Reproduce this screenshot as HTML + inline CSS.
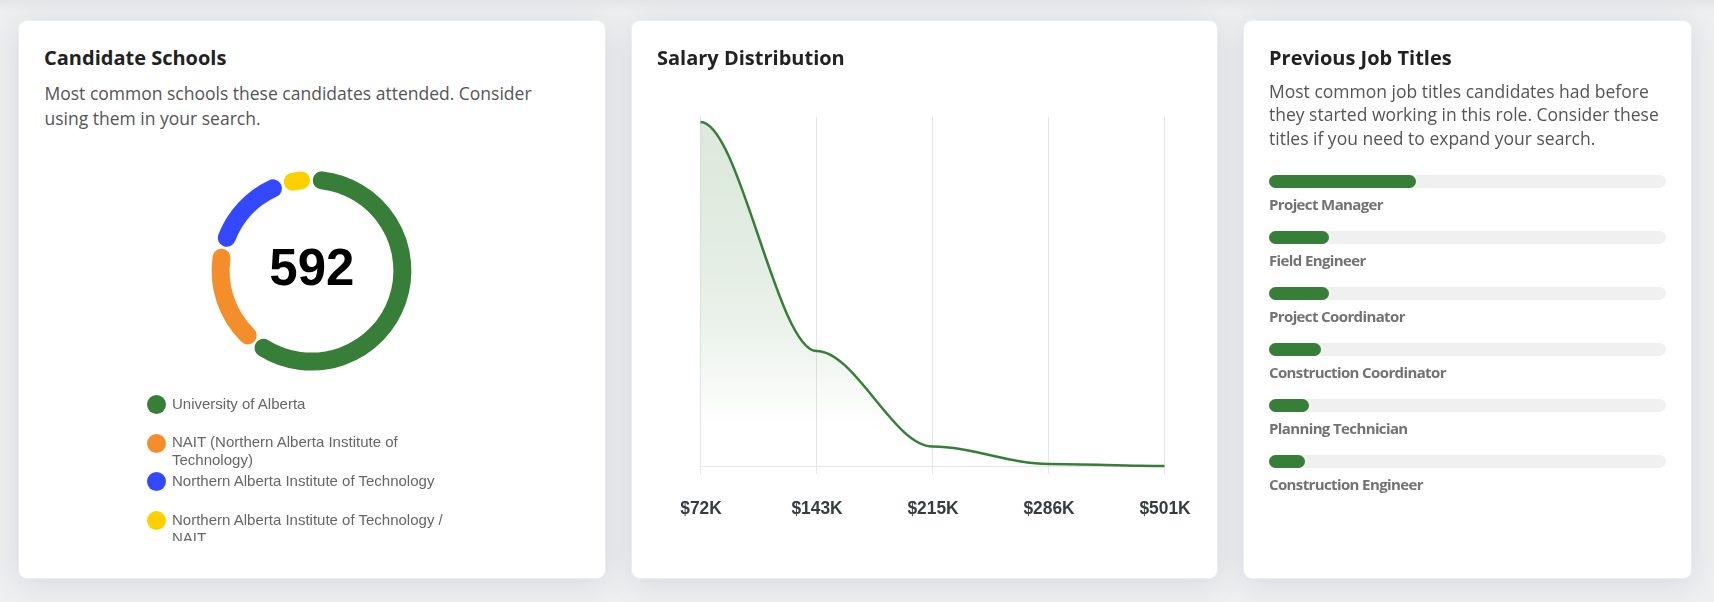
<!DOCTYPE html>
<html><head><meta charset="utf-8"><title>Candidate Insights</title>
<style>
html,body{margin:0;padding:0}
body{width:1714px;height:602px;overflow:hidden;background:#eeeff1;position:relative;font-family:"Open Sans","Liberation Sans",sans-serif}
.card{position:absolute;top:21px;height:557px;background:#fff;border-radius:8px;box-shadow:0 0 0 1px rgba(236,239,248,.75),0 4px 32px rgba(10,15,40,.105)}
#c1{left:19px;width:586px}
#c2{left:632px;width:585px}
#c3{left:1244px;width:447px}
h2{position:absolute;margin:0;font:700 20px/27px "Open Sans","Liberation Sans",sans-serif;color:#222;white-space:nowrap}
.desc{position:absolute;margin:0;white-space:nowrap;font:400 17.5px/26.4px "Open Sans","Liberation Sans",sans-serif;color:#555}
.lg{position:absolute;font:400 15px/18.3px "Liberation Sans",Arial,sans-serif;color:#666;white-space:nowrap}
.mk{position:absolute;width:19px;height:19px;border-radius:50%}
.ax{font:700 18px "Liberation Sans",Arial,sans-serif;fill:#373d3f}
.track{position:absolute;left:25px;width:397px;height:13px;border-radius:7px;background:#f0f0f0}
.fill{position:absolute;left:0;top:0;height:13px;border-radius:7px;background:#377e38}
.bl{position:absolute;left:25px;font:700 15px/20px "Open Sans","Liberation Sans",sans-serif;color:#727272;white-space:nowrap;letter-spacing:-0.62px;will-change:transform}
#topfade{position:absolute;left:0;top:0;width:1714px;height:12px;background:linear-gradient(rgba(0,0,0,.045),rgba(0,0,0,0))}
</style></head>
<body>
<div id="topfade"></div>
<div class="card" id="c1">
  <h2 style="left:25px;top:23px">Candidate Schools</h2>
  <p class="desc" style="left:25.5px;top:59.7px;width:520px;line-height:25.6px">Most common schools these candidates attended. Consider<br>using them in your search.</p>
  <svg style="position:absolute;left:0;top:0;will-change:transform" width="586" height="557" viewBox="19 21 586 557">
    <g fill="none" stroke-width="18" stroke-linecap="round">
      <path id="sg" stroke="#377e38" d="M321.79,180.38 A90.9,90.9 0 1 1 263.46,347.87"/>
      <path id="so" stroke="#f48e2b" d="M247.67,335.42 A90.9,90.9 0 0 1 221.53,257.74"/>
      <path id="sb" stroke="#3449ff" d="M226.75,237.83 A90.9,90.9 0 0 1 272.94,188.38"/>
      <path id="sy" stroke="#ffd000" d="M292.76,181.75 A90.9,90.9 0 0 1 301.05,180.40"/>
    </g>
    <text x="0" y="285" transform="translate(311.8 0) scale(0.98 1)" text-anchor="middle" style="font:700 52px 'Liberation Sans',Arial,sans-serif" fill="#000">592</text>
  </svg>
  <div style="position:absolute;left:0;top:0;width:586px;height:520px;overflow:hidden;will-change:transform">
    <div class="mk" style="left:127.5px;top:374px;background:#377e38"></div>
    <div class="lg" style="left:153px;top:374px">University of Alberta</div>
    <div class="mk" style="left:127.5px;top:412.5px;background:#f48e2b"></div>
    <div class="lg" style="left:153px;top:412px">NAIT (Northern Alberta Institute of<br>Technology)</div>
    <div class="mk" style="left:127.5px;top:451px;background:#3449ff"></div>
    <div class="lg" style="left:153px;top:451px">Northern Alberta Institute of Technology</div>
    <div class="mk" style="left:127.5px;top:490px;background:#ffd000"></div>
    <div class="lg" style="left:153px;top:490px">Northern Alberta Institute of Technology /<br>NAIT</div>
  </div>
</div>

<div class="card" id="c2">
  <h2 style="left:25px;top:23px">Salary Distribution</h2>
  <svg style="position:absolute;left:0;top:0;will-change:transform" width="585" height="557" viewBox="632 21 585 557">
    <defs>
      <linearGradient id="gf" x1="0" y1="122" x2="0" y2="466" gradientUnits="userSpaceOnUse">
        <stop offset="0" stop-color="#377e38" stop-opacity="0.17"/>
        <stop offset="0.35" stop-color="#377e38" stop-opacity="0.145"/>
        <stop offset="0.6" stop-color="#377e38" stop-opacity="0.1"/>
        <stop offset="0.9" stop-color="#377e38" stop-opacity="0"/>
      </linearGradient>
    </defs>
    <g stroke="#e6e6e6" stroke-width="1">
      <line x1="700.5" y1="117" x2="700.5" y2="466"/>
      <line x1="816.5" y1="117" x2="816.5" y2="466"/>
      <line x1="932.5" y1="117" x2="932.5" y2="466"/>
      <line x1="1048.5" y1="117" x2="1048.5" y2="466"/>
      <line x1="1164.5" y1="117" x2="1164.5" y2="466"/>
      <line x1="700" y1="466.5" x2="1165" y2="466.5"/>
      <line x1="700.5" y1="466" x2="700.5" y2="474"/>
      <line x1="816.5" y1="466" x2="816.5" y2="474"/>
      <line x1="932.5" y1="466" x2="932.5" y2="474"/>
      <line x1="1048.5" y1="466" x2="1048.5" y2="474"/>
      <line x1="1164.5" y1="466" x2="1164.5" y2="474"/>
    </g>
    <path id="area" fill="url(#gf)" d="M700.5,122 C739.2,122 777.8,351 816.5,351 C855.2,351 893.8,446.5 932.5,446.5 C971.2,446.5 1009.8,464 1048.5,464 C1087.2,464 1125.8,466 1164.5,466 L1164.5,466.5 L700.5,466.5 Z"/>
    <path id="curve" fill="none" stroke="#377e38" stroke-width="2.5" d="M700.5,122 C739.2,122 777.8,351 816.5,351 C855.2,351 893.8,446.5 932.5,446.5 C971.2,446.5 1009.8,464 1048.5,464 C1087.2,464 1125.8,466 1164.5,466"/>
    <g class="ax" text-anchor="middle">
      <text x="0" y="514" transform="translate(701 0) scale(0.965 1)">$72K</text>
      <text x="0" y="514" transform="translate(817 0) scale(0.965 1)">$143K</text>
      <text x="0" y="514" transform="translate(933 0) scale(0.965 1)">$215K</text>
      <text x="0" y="514" transform="translate(1049 0) scale(0.965 1)">$286K</text>
      <text x="0" y="514" transform="translate(1165 0) scale(0.965 1)">$501K</text>
    </g>
  </svg>
</div>

<div class="card" id="c3">
  <h2 style="left:25px;top:23px">Previous Job Titles</h2>
  <p class="desc" style="left:25px;top:58.7px;width:400px;line-height:23.7px">Most common job titles candidates had before<br>they started working in this role. Consider these<br>titles if you need to expand your search.</p>
  <div class="track" style="top:154px"><div class="fill" style="width:147px"></div></div>
  <div class="bl" style="top:173px">Project Manager</div>
  <div class="track" style="top:210px"><div class="fill" style="width:60px"></div></div>
  <div class="bl" style="top:229px">Field Engineer</div>
  <div class="track" style="top:266px"><div class="fill" style="width:60px"></div></div>
  <div class="bl" style="top:285px">Project Coordinator</div>
  <div class="track" style="top:322px"><div class="fill" style="width:52px"></div></div>
  <div class="bl" style="top:341px">Construction Coordinator</div>
  <div class="track" style="top:378px"><div class="fill" style="width:40px"></div></div>
  <div class="bl" style="top:397px">Planning Technician</div>
  <div class="track" style="top:434px"><div class="fill" style="width:36px"></div></div>
  <div class="bl" style="top:453px">Construction Engineer</div>
</div>
</body></html>
